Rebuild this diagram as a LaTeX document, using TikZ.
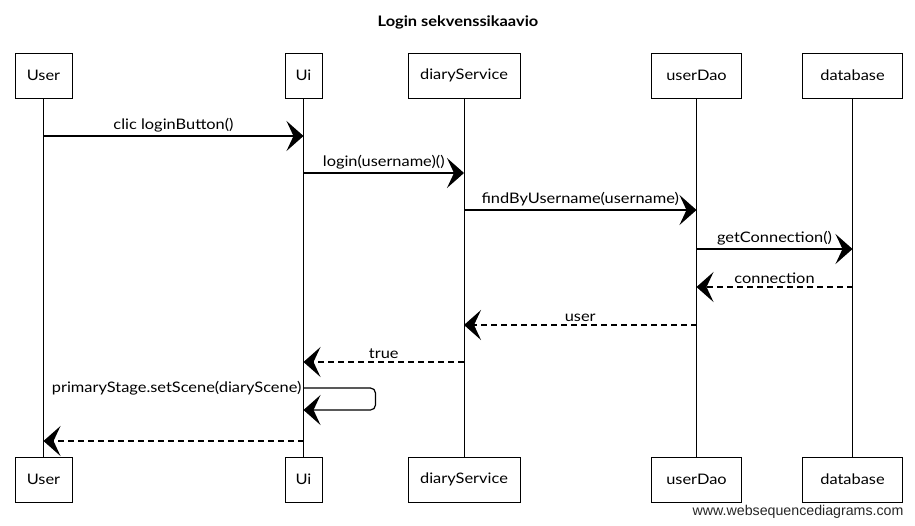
\documentclass[tikz,border=0pt]{standalone}
\usepackage{fontspec}
\setmainfont{Lato}[FakeStretch=1.13]
\newfontfamily\markfont{Liberation Sans}
\usetikzlibrary{arrows.meta}
\begin{document}
\begin{tikzpicture}[x=1pt,y=-1pt,
  actor/.style={draw, line width=0.9pt, minimum height=45pt, inner sep=0pt,
    font=\fontsize{14.5}{16}\selectfont},
  lifeline/.style={line width=0.8pt},
  call/.style={line width=1.2pt, -{Stealth[length=17pt,width=30pt,inset=7pt]}},
  reply/.style={call, dash pattern=on 6pt off 4pt},
  msg/.style={font=\fontsize{14.5}{16}\selectfont, inner sep=3pt}
]
\path[use as bounding box] (0,0) rectangle (915,525);

\node[font=\bfseries\fontsize{14.5}{16}\selectfont] (title) at (458,22) {Login sekvenssikaavio};

% participants, top row
\node[actor, minimum width=57pt]  (userT) at (43.5,75.5) {User};
\node[actor, minimum width=37pt]  (uiT)   at (303.5,75.5) {Ui};
\node[actor, minimum width=112pt] (dsT)   at (464,75.5) {diaryService};
\node[actor, minimum width=90pt]  (daoT)  at (696.5,75.5) {userDao};
\node[actor, minimum width=100pt] (dbT)   at (852.5,75.5) {database};

% participants, bottom row
\node[actor, minimum width=57pt]  (userB) at (43.5,479.5) {User};
\node[actor, minimum width=37pt]  (uiB)   at (303.5,479.5) {Ui};
\node[actor, minimum width=112pt] (dsB)   at (464,479.5) {diaryService};
\node[actor, minimum width=90pt]  (daoB)  at (696.5,479.5) {userDao};
\node[actor, minimum width=100pt] (dbB)   at (852.5,479.5) {database};

% lifelines
\draw[lifeline] (userT) -- (userB);
\draw[lifeline] (uiT) -- (uiB);
\draw[lifeline] (dsT) -- (dsB);
\draw[lifeline] (daoT) -- (daoB);
\draw[lifeline] (dbT) -- (dbB);

% message end points on the lifelines
\coordinate (m1a) at (userT |- 0,136);
\coordinate (m1b) at (uiT |- 0,136);
\coordinate (m2a) at (uiT |- 0,173);
\coordinate (m2b) at (dsT |- 0,173);
\coordinate (m3a) at (dsT |- 0,210);
\coordinate (m3b) at (daoT |- 0,210);
\coordinate (m4a) at (daoT |- 0,249);
\coordinate (m4b) at (dbT |- 0,249);
\coordinate (m5a) at (dbT |- 0,287);
\coordinate (m5b) at (daoT |- 0,287);
\coordinate (m6a) at (daoT |- 0,325);
\coordinate (m6b) at (dsT |- 0,325);
\coordinate (m7a) at (dsT |- 0,362);
\coordinate (m7b) at (uiT |- 0,362);
\coordinate (s0)  at (uiT |- 0,388);
\coordinate (s1)  at (uiT |- 0,410);
\coordinate (m9a) at (uiT |- 0,441);
\coordinate (m9b) at (userT |- 0,441);

% calls
\draw[call]  (m1a) -- node[msg, above] {clic loginButton()} (m1b);
\draw[call]  (m2a) -- node[msg, above] {login(username)()} (m2b);
\draw[call]  (m3a) -- node[msg, above] {findByUsername(username)} (m3b);
\draw[call]  (m4a) -- node[msg, above] {getConnection()} (m4b);

% replies
\draw[reply] (m5a) -- node[msg, above] {connection} (m5b);
\draw[reply] (m6a) -- node[msg, above] {user} (m6b);
\draw[reply] (m7a) -- node[msg, above] {true} (m7b);

% self call on Ui
\draw[call, rounded corners=5pt] (s0) -- ++(72,0) |- (s1);
\node[msg, anchor=east, inner sep=2pt] (selflabel) at (s0) {primaryStage.setScene(diaryScene)};

% final return to User
\draw[reply] (m9a) -- (m9b);

\node[font=\markfont\fontsize{14.2}{16}\selectfont, text=black!85, anchor=east] (mark) at (907,512) {www.websequencediagrams.com};
\end{tikzpicture}
\end{document}
